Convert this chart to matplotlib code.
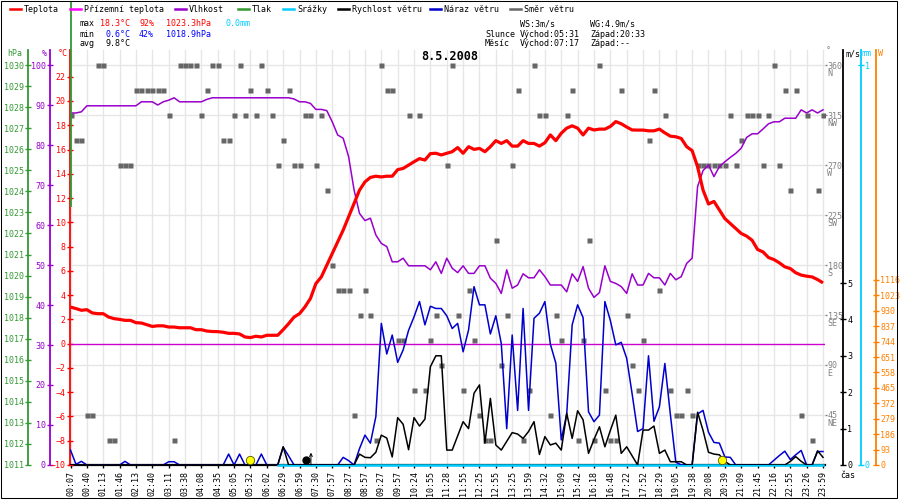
import numpy as np
import matplotlib
matplotlib.use("Agg")
import matplotlib.pyplot as plt
from matplotlib.lines import Line2D
from matplotlib.patches import Rectangle

plt.rcParams['font.family'] = ['DejaVu Sans Mono', 'DejaVu Sans']
plt.rcParams['font.size'] = 6

# ---------------- data ----------------
time_labels = ["00:07", "00:40", "01:13", "01:46", "02:13", "02:40", "03:11", "03:38",
               "04:08", "04:35", "05:05", "05:32", "06:02", "06:29", "06:59", "07:30",
               "07:57", "08:27", "08:57", "09:27", "09:57", "10:24", "10:55", "11:28",
               "11:55", "12:25", "12:55", "13:25", "13:59", "14:32", "15:09", "15:42",
               "16:18", "16:48", "17:22", "17:52", "18:29", "19:05", "19:38", "20:08",
               "20:39", "21:09", "21:45", "22:16", "22:55", "23:26", "23:59"]
SAMPLES_PER_LABEL = 3

temperature = [
    3.02, 2.89, 2.75, 2.80, 2.53, 2.47, 2.47, 2.19, 2.06, 2.00,
    1.92, 1.92, 1.73, 1.70, 1.56, 1.42, 1.47, 1.47, 1.37, 1.37,
    1.31, 1.31, 1.31, 1.15, 1.15, 1.04, 1.00, 0.99, 0.94, 0.85,
    0.85, 0.80, 0.55, 0.50, 0.61, 0.55, 0.69, 0.69, 0.69, 1.15,
    1.65, 2.19, 2.47, 3.03, 3.72, 4.95, 5.50, 6.46, 7.42, 8.38,
    9.35, 10.45, 11.55, 12.65, 13.33, 13.70, 13.80, 13.74, 13.80, 13.80,
    14.34, 14.44, 14.72, 14.99, 15.25, 15.13, 15.66, 15.69, 15.55, 15.69,
    15.82, 16.16, 15.69, 16.23, 16.01, 16.09, 15.82, 16.23, 16.73, 16.50,
    16.73, 16.28, 16.28, 16.73, 16.50, 16.50, 16.28, 16.56, 17.20, 16.73,
    17.34, 17.76, 17.95, 17.76, 17.20, 17.76, 17.61, 17.68, 17.68, 17.90,
    18.30, 18.12, 17.85, 17.61, 17.60, 17.60, 17.54, 17.54, 17.68, 17.37,
    17.10, 17.05, 16.91, 16.23, 15.91, 14.58, 12.66, 11.51, 11.72, 11.01,
    10.31, 9.90, 9.49, 9.08, 8.86, 8.52, 7.76, 7.56, 7.10, 6.93,
    6.66, 6.33, 6.19, 5.84, 5.65, 5.56, 5.50, 5.28, 5.01]

humidity = [
    88.0, 88.0, 88.3, 89.8, 89.8, 89.8, 89.8, 89.8, 89.8, 89.8,
    89.8, 89.8, 89.8, 90.8, 90.8, 90.8, 90.0, 90.8, 91.2, 91.8,
    90.8, 90.8, 90.8, 90.8, 90.8, 91.4, 91.8, 91.8, 91.8, 91.8,
    91.8, 91.8, 91.8, 91.8, 91.8, 91.8, 91.8, 91.8, 91.8, 91.8,
    91.8, 91.5, 90.8, 90.8, 90.4, 88.9, 88.9, 88.6, 85.8, 82.5,
    81.7, 77.1, 68.8, 62.9, 61.1, 61.7, 57.5, 55.4, 54.6, 50.8,
    50.8, 51.7, 49.8, 49.8, 49.8, 49.8, 48.8, 50.8, 47.9, 51.7,
    49.2, 48.1, 49.8, 47.9, 47.9, 49.8, 49.8, 46.7, 45.4, 42.9,
    48.8, 44.2, 45.0, 47.8, 46.8, 46.8, 48.8, 47.1, 45.0, 45.0,
    45.0, 43.3, 47.8, 45.9, 49.6, 44.2, 41.9, 43.1, 49.8, 45.9,
    45.4, 44.6, 42.9, 47.8, 45.0, 45.0, 47.9, 46.8, 46.8, 45.0,
    47.9, 46.3, 47.1, 50.4, 51.7, 69.6, 73.6, 75.0, 72.1, 74.6,
    75.8, 76.9, 77.9, 79.2, 81.9, 82.8, 82.8, 84.0, 85.3, 85.8,
    85.8, 86.7, 86.7, 86.7, 88.8, 88.0, 88.8, 88.0, 88.8]

wind_dir = [
    315, 292.5, 292.5, 45, 45, 360, 360, 22.5, 22.5, 270,
    270, 270, 337.5, 337.5, 337.5, 337.5, 337.5, 337.5, 315, 22.5,
    360, 360, 360, 360, 315, 337.5, 360, 360, 292.5, 292.5,
    315, 360, 315, 337.5, 315, 360, 337.5, 315, 270, 292.5,
    337.5, 270, 270, 315, 315, 270, 315, 247.5, 180, 157.5,
    157.5, 157.5, 45, 135, 157.5, 135, 22.5, 360, 337.5, 337.5,
    112.5, 112.5, 315, 67.5, 315, 67.5, 112.5, 135, 90, 270,
    360, 135, 67.5, 157.5, 112.5, 45, 22.5, 22.5, 202.5, 90,
    135, 270, 337.5, 22.5, 67.5, 360, 315, 315, 45, 135,
    112.5, 315, 337.5, 22.5, 112.5, 202.5, 22.5, 360, 67.5, 22.5,
    22.5, 337.5, 135, 90, 67.5, 112.5, 292.5, 337.5, 157.5, 315,
    67.5, 45, 45, 67.5, 45, 270, 270, 270, 270, 270,
    270, 315, 270, 292.5, 315, 315, 315, 270, 315, 360,
    270, 337.5, 247.5, 337.5, 45, 315, 22.5, 247.5, 315]

wind_speed = [
    0, 0, 0, 0, 0, 0, 0, 0, 0, 0,
    0, 0, 0, 0, 0, 0, 0, 0, 0, 0,
    0, 0, 0, 0, 0, 0, 0, 0, 0, 0,
    0, 0, 0, 0, 0, 0, 0, 0, 0, 0.5,
    0, 0, 0, 0, 0, 0, 0, 0, 0, 0,
    0, 0, 0, 0.3, 0.21, 0.2, 0.35, 0.82, 0.74, 0.22,
    1.3, 1.12, 0.42, 1.3, 1.07, 1.26, 2.7, 3.0, 3.0, 0.41,
    0.41, 0.8, 1.19, 1.0, 1.97, 2.2, 0.6, 1.83, 0.55, 0.41,
    0.65, 0.89, 0.85, 0.73, 0.92, 1.19, 0.29, 0.78, 0.55, 0.6,
    0.41, 1.42, 0.73, 1.49, 1.24, 0.32, 0.7, 1.05, 0.5, 0.95,
    1.37, 0.32, 0.5, 0.25, 0, 0.96, 0.96, 1.07, 0.32, 0.41,
    0.09, 0.09, 0.09, 0, 0, 1.45, 0.95, 0.35, 0.3, 0.28,
    0.1, 0, 0, 0, 0, 0, 0, 0, 0, 0,
    0, 0, 0.1, 0.23, 0.1, 0, 0, 0.39, 0.21]

wind_gust = [
    0.41, 0.02, 0.1, 0, 0, 0, 0, 0, 0, 0,
    0.1, 0, 0, 0, 0, 0, 0, 0, 0.09, 0.09,
    0, 0, 0, 0, 0, 0, 0, 0, 0, 0.3,
    0, 0.3, 0, 0, 0, 0.3, 0, 0, 0, 0.49,
    0.25, 0, 0, 0, 0, 0, 0, 0, 0, 0,
    0.21, 0.12, 0, 0.45, 0.82, 0.6, 1.33, 3.89, 3.05, 3.57,
    2.82, 3.16, 3.7, 4.07, 4.49, 3.85, 4.36, 4.3, 4.3, 4.1,
    3.75, 3.89, 3.11, 3.71, 4.9, 4.4, 4.4, 3.6, 4.1, 3.34,
    1.0, 3.57, 1.5, 4.3, 1.5, 4.03, 4.17, 4.49, 3.32, 2.8,
    0.69, 1.4, 3.85, 4.4, 4.05, 1.46, 1.19, 1.37, 4.49, 3.97,
    3.3, 3.37, 2.93, 1.95, 0.92, 1.0, 3.0, 1.2, 1.6, 2.79,
    1.4, 0.08, 0, 0, 0, 1.4, 1.5, 0.9, 0.62, 0.6,
    0.22, 0.21, 0, 0, 0, 0, 0, 0, 0, 0.13,
    0.26, 0.38, 0.15, 0.28, 0.4, 0, 0, 0.37, 0.37]

ground_temp = 0.0          # Přízemní teplota (flat)
precip_first_sample = 38   # Srážky recorded from this sample on
precip_value = 0.0
pressure_first = 1023.3

sunrise, sunset = "05:31", "20:33"
moonrise = "07:17"

n = len(temperature)
assert all(len(s) == n for s in (humidity, wind_dir, wind_speed, wind_gust))
assert len(time_labels) == (n - 1) // SAMPLES_PER_LABEL + 1

x = np.arange(n)
label_pos = np.arange(0, n, SAMPLES_PER_LABEL)


def to_min(t):
    h, m = t.split(":")
    return int(h) * 60 + int(m)


label_min = np.array([to_min(t) for t in time_labels])


def time_to_sample(t):
    return float(np.interp(to_min(t), label_min, label_pos))


# ---------------- colours ----------------
RED = '#ff0000'
MAG = '#ff00ff'
PUR = '#9900cc'
GRN = '#339933'
CYA = '#00ccff'
BLU = '#0000cc'
GRY = '#666666'
ORA = '#ff8000'

# ---------------- figure / axes ----------------
W, H = 900, 500
fig = plt.figure(figsize=(9, 5), dpi=100)
L, R, B, T = 70, 825, 465, 50
ax = fig.add_axes([L / W, 1 - B / H, (R - L) / W, (B - T) / H])
spacing = (823 - 70.5) / (n - 1)
xlim = ((L - 70.5) / spacing, (R - 70.5) / spacing)
ax.set_xlim(xlim)
ax.set_ylim(0, 373.5)

# grid
ax.set_xticks(label_pos)
ax.set_xticklabels(time_labels, rotation=90)
dir_ticks = np.arange(45, 361, 45)
ax.set_yticks(dir_ticks)
ax.grid(True, color='#e6e6e6', lw=1)
ax.set_axisbelow(True)
for s in ('left', 'top', 'right'):
    ax.spines[s].set_visible(False)
ax.spines['bottom'].set_color('black')
ax.spines['bottom'].set_linewidth(1.6)
ax.tick_params(axis='x', length=2, width=1, color='black', pad=2, labelsize=6)

# wind direction squares
ax.plot(x, wind_dir, 's', ms=3.6, color=GRY, mec='none', zorder=3)


def make_twin(side=None, pos=None, color=None):
    a = ax.twinx()
    a.patch.set_visible(False)
    for s in a.spines.values():
        s.set_visible(False)
    if side is None:
        a.set_yticks([])
        return a
    a.yaxis.set_ticks_position(side)
    a.yaxis.set_label_position(side)
    sp = a.spines[side]
    sp.set_visible(True)
    sp.set_position(('axes', pos))
    sp.set_color(color)
    sp.set_linewidth(1.3)
    return a


def style(a, color):
    a.tick_params(axis='y', direction='inout', length=4, width=1, colors=color,
                  labelsize=6, pad=1)


# humidity
ax_h = make_twin('left', (50 - L) / (R - L), PUR)
ax_h.set_ylim(0, 103.75)
ax_h.set_yticks(np.arange(0, 101, 10))
style(ax_h, PUR)
ax_h.plot(x, humidity, color=PUR, lw=1.1, zorder=3)

# temperature
ax_t = make_twin('left', 0.0, RED)
ax_t.set_ylim(-10, 24.2)
ax_t.set_yticks(np.arange(-10, 23, 2))
style(ax_t, RED)
ax_t.axhline(ground_temp, color='#cc00cc', lw=1, zorder=2)
ax_t.plot(x, temperature, color=RED, lw=2.3, zorder=3, solid_capstyle='butt')

# pressure axis (hPa)
ax_p = make_twin('left', (28 - L) / (R - L), GRN)
ax_p.set_ylim(1011, 1011 + (B - T) / 21.05)
ax_p.set_yticks(np.arange(1011, 1031, 1))
style(ax_p, GRN)
ax_p.plot([x[0] + 0.15, x[0] + 0.15], [pressure_first, 1033.0], color=GRN, lw=1.3,
          clip_on=False, zorder=5)

# precipitation
ax_mm = make_twin('right', (860.7 - L) / (R - L), CYA)
ax_mm.set_ylim(0, 1.0375)
ax_mm.set_yticks([0, 1])
style(ax_mm, CYA)
xp = x[precip_first_sample:]
ax_mm.plot(xp, np.full(len(xp), precip_value), color=CYA, lw=1.8, clip_on=False, zorder=3)

# wind speed / gust
ax_w = make_twin('right', (843 - L) / (R - L), 'black')
ax_w.set_ylim(0, (B - T) / 36.4)
ax_w.set_yticks(np.arange(0, 6, 1))
style(ax_w, 'black')
ax_w.plot(x, wind_gust, color=BLU, lw=1.1, zorder=3)
ax_w.plot(x, wind_speed, color='black', lw=1.1, zorder=4)

# sun / moon markers
mk_level = 0.14
for t in (sunrise, sunset):
    ax_w.plot(time_to_sample(t), mk_level, 'o', ms=6, mfc='#ffff00', mec='#555500',
              mew=0.6, zorder=6, clip_on=False)
km = time_to_sample(moonrise)
ax_w.plot(km - 0.6, mk_level, 'o', ms=5, color='black', zorder=6)
ax_w.annotate('', xy=(km + 0.35, 0.34), xytext=(km + 0.35, 0.0),
              arrowprops=dict(arrowstyle='->', lw=0.7, color='black',
                              shrinkA=0, shrinkB=0, mutation_scale=5), zorder=6)

# solar radiation axis (W)
ax_W = make_twin('right', (876 - L) / (R - L), ORA)
ax_W.set_ylim(0, (B - T) * 6.032)
ax_W.set_yticks(np.arange(0, 1117, 93))
style(ax_W, ORA)

# direction tick labels on the right of the plot (after twinx calls)
ax.yaxis.set_ticks_position('right')
ax.set_yticks(dir_ticks)
ax.set_yticklabels([str(int(d)) for d in dir_ticks])
ax.tick_params(axis='y', which='both', left=False, labelleft=False, right=True,
               labelright=True, length=1.5, width=1, color='#808080',
               labelcolor='#808080', pad=0.5, labelsize=6)
compass = ['NE', 'E', 'SE', 'S', 'SW', 'W', 'NW', 'N']
for d, c in zip(dir_ticks, compass):
    ax.annotate(c, xy=(1, d), xycoords=('axes fraction', 'data'), xytext=(1.6, -6),
                textcoords='offset points', ha='left', va='center', color='#808080',
                fontsize=6)


# ---------------- texts ----------------
def ftext(px, py, s, **kw):
    kw.setdefault('va', 'center')
    kw.setdefault('ha', 'left')
    kw.setdefault('fontsize', 6)
    fig.text(px / W, 1 - py / H, s, **kw)


# legend
legend_items = [
    (10, 'Teplota', RED), (70, 'Přízemní teplota', MAG), (175, 'Vlhkost', PUR),
    (238, 'Tlak', GRN), (283, 'Srážky', CYA), (338, 'Rychlost větru', 'black'),
    (430, 'Náraz větru', BLU), (510, 'Směr větru', GRY)]
for px, lab, col in legend_items:
    fig.add_artist(Line2D([px / W, (px + 11) / W], [1 - 9 / H, 1 - 9 / H],
                          color=col, lw=1.8))
    ftext(px + 14, 9, lab)

# statistics
ftext(80, 24, 'max')
ftext(130, 24, '18.3°C', ha='right', color=RED)
ftext(139, 24, '92%', color=RED)
ftext(166, 24, '1023.3hPa', color=RED)
ftext(226, 24, '0.0mm', color=CYA)
ftext(80, 34, 'min')
ftext(130, 34, '0.6°C', ha='right', color='#0000ff')
ftext(139, 34, '42%', color='#0000ff')
ftext(166, 34, '1018.9hPa', color='#0000ff')
ftext(80, 44, 'avg')
ftext(130, 44, '9.8°C', ha='right')

ftext(520, 24, 'WS:3m/s')
ftext(590, 24, 'WG:4.9m/s')
ftext(485, 34, 'Slunce')
ftext(520, 34, 'Východ:' + sunrise)
ftext(590, 34, 'Západ:' + sunset)
ftext(485, 44, 'Měsíc')
ftext(520, 44, 'Východ:' + moonrise)
ftext(590, 44, 'Západ:--')

# title
ftext(450, 56, '8.5.2008', ha='center', fontsize=8.5, fontweight='bold')

# axis units
ftext(22, 54, 'hPa', ha='right', color=GRN)
ftext(47, 54, '%', ha='right', color=PUR)
ftext(68, 54, '°C', ha='right', color=RED)
ftext(826, 51, '°', color='#808080')
ftext(846, 54, 'm/s')
ftext(862, 54, 'mm', color=CYA)
ftext(878, 54, 'W', color=ORA)
ftext(840, 475, 'čas')

# frame
fig.add_artist(Rectangle((0.5 / W, 1 - 497.5 / H), 896.5 / W, 497 / H, fill=False,
                         lw=0.75, ec='black', transform=fig.transFigure))

fig.savefig('out.png', dpi=100)
